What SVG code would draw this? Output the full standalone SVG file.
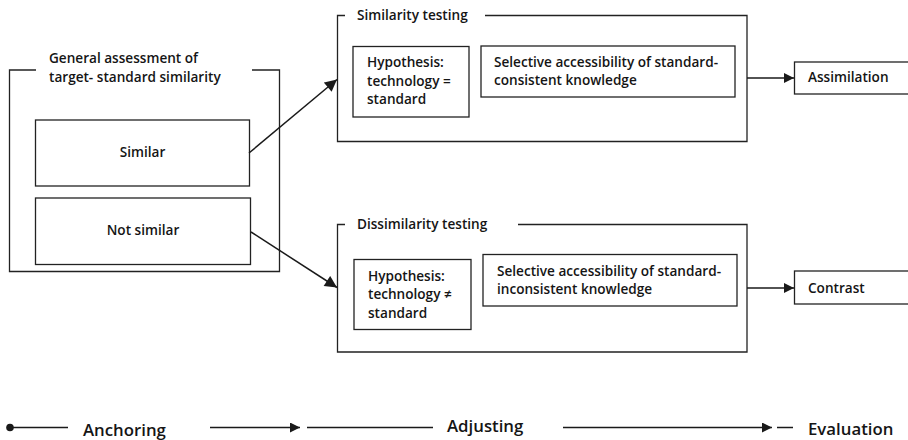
<svg xmlns="http://www.w3.org/2000/svg" width="908" height="440" viewBox="0 0 908 440">
  <defs>
    <marker id="arrow" viewBox="0 0 10 10" refX="10" refY="5" markerWidth="10" markerHeight="10" markerUnits="userSpaceOnUse" orient="auto">
      <path d="M0,0 L10,5 L0,10 z" fill="#1a1a1a"/>
    </marker>
    <marker id="arrowBig" viewBox="0 0 10 10" refX="10" refY="5" markerWidth="13" markerHeight="12" markerUnits="userSpaceOnUse" orient="auto">
      <path d="M0,0 L10,5 L0,10 z" fill="#1a1a1a"/>
    </marker>
  </defs>
  <style>
    .box { fill: #ffffff; stroke: #222222; stroke-width: 1.3; }
    .frame { fill: none; stroke: #222222; stroke-width: 1.3; }
    .lbl { font-family: "Open Sans", "Noto Sans", "Liberation Sans", sans-serif; font-weight: 600; font-size: 13.6px; fill: #151515; }
    .stage { font-family: "Open Sans", "Noto Sans", "Liberation Sans", sans-serif; font-weight: 600; font-size: 16.8px; fill: #151515; }
    .conn { fill: none; stroke: #1a1a1a; stroke-width: 1.5; }
  </style>
  <rect width="908" height="440" fill="#ffffff"/>

  <!-- general assessment frame -->
  <g id="assessment">
    <path class="frame" d="M36,70 H9.5 V271.5 H279.5 V70 H252"/>
    <text class="lbl" x="49" y="63">General assessment of</text>
    <text class="lbl" x="49" y="82">target- standard similarity</text>
  </g>
  <g id="similar">
    <rect class="box" x="35.5" y="120" width="214" height="66"/>
    <text class="lbl" x="142.5" y="157" text-anchor="middle">Similar</text>
  </g>
  <g id="not-similar">
    <rect class="box" x="35.5" y="198" width="215" height="66.5"/>
    <text class="lbl" x="143" y="235" text-anchor="middle">Not similar</text>
  </g>

  <!-- similarity testing frame -->
  <g id="similarity-testing">
    <path class="frame" d="M345,15.5 H337.5 V141.5 H747 V15.5 H485"/>
    <text class="lbl" x="357" y="20">Similarity testing</text>
  </g>
  <g id="hyp-equal">
    <rect class="box" x="353" y="46.5" width="116" height="70.5"/>
    <text class="lbl" x="367" y="67">Hypothesis:</text>
    <text class="lbl" x="367" y="86">technology =</text>
    <text class="lbl" x="367" y="104">standard</text>
  </g>
  <g id="consistent">
    <rect class="box" x="481" y="46" width="254" height="51"/>
    <text class="lbl" x="494" y="67">Selective accessibility of standard-</text>
    <text class="lbl" x="494" y="85">consistent knowledge</text>
  </g>

  <!-- dissimilarity testing frame -->
  <g id="dissimilarity-testing">
    <path class="frame" d="M345,224.5 H337.5 V352 H747 V224.5 H518"/>
    <text class="lbl" x="357" y="229">Dissimilarity testing</text>
  </g>
  <g id="hyp-unequal">
    <rect class="box" x="354" y="259.5" width="117" height="70"/>
    <text class="lbl" x="368" y="281">Hypothesis:</text>
    <text class="lbl" x="368" y="299">technology ≠</text>
    <text class="lbl" x="368" y="318">standard</text>
  </g>
  <g id="inconsistent">
    <rect class="box" x="483" y="254.5" width="254" height="51.5"/>
    <text class="lbl" x="497" y="276">Selective accessibility of standard-</text>
    <text class="lbl" x="497" y="294">inconsistent knowledge</text>
  </g>

  <!-- outcomes -->
  <g id="assimilation">
    <rect class="box" x="794.5" y="62" width="120" height="32"/>
    <text class="lbl" x="808" y="82">Assimilation</text>
  </g>
  <g id="contrast">
    <rect class="box" x="794.5" y="271" width="120" height="33"/>
    <text class="lbl" x="808" y="293">Contrast</text>
  </g>

  <!-- connectors -->
  <g id="connectors">
    <line class="conn" x1="249" y1="153" x2="337" y2="79.5" marker-end="url(#arrowBig)"/>
    <line class="conn" x1="251" y1="232" x2="337" y2="287.5" marker-end="url(#arrowBig)"/>
    <line class="conn" x1="747" y1="78" x2="794" y2="78" marker-end="url(#arrow)"/>
    <line class="conn" x1="747" y1="288" x2="794" y2="288" marker-end="url(#arrow)"/>
  </g>

  <!-- process timeline -->
  <g id="timeline">
    <circle cx="10" cy="427.5" r="3.8" fill="#1a1a1a"/>
    <line class="conn" x1="10" y1="427.5" x2="68" y2="427.5"/>
    <text class="stage" x="83" y="436">Anchoring</text>
    <line class="conn" x1="210" y1="427.5" x2="300" y2="427.5" marker-end="url(#arrow)"/>
    <line class="conn" x1="307" y1="427.5" x2="433" y2="427.5"/>
    <text class="stage" x="447" y="432">Adjusting</text>
    <line class="conn" x1="563" y1="427.5" x2="772" y2="427.5" marker-end="url(#arrow)"/>
    <line class="conn" x1="777" y1="427.5" x2="793" y2="427.5"/>
    <text class="stage" x="808" y="435">Evaluation</text>
  </g>
</svg>
